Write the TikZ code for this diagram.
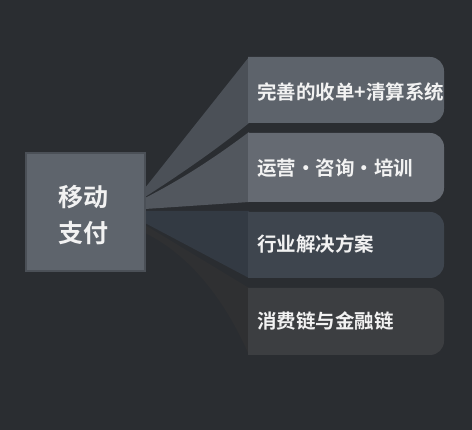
\documentclass[tikz,border=0pt]{standalone}
\usepackage{fontspec}
\newfontfamily\cjk{Noto Sans CJK SC}[BoldFont={Noto Sans CJK SC Bold}]
\definecolor{bg}{HTML}{2A2D31}
\definecolor{leftfill}{HTML}{5E646C}
\definecolor{leftdraw}{HTML}{4B5057}
\definecolor{boxA}{HTML}{5D636B}
\definecolor{boxB}{HTML}{656A72}
\definecolor{boxC}{HTML}{3E454E}
\definecolor{boxD}{HTML}{3C3E41}
\definecolor{fanA}{HTML}{4B5057}
\definecolor{fanB}{HTML}{52575E}
\definecolor{fanC}{HTML}{333A43}
\definecolor{fanD}{HTML}{2F3032}
\definecolor{txt}{HTML}{F2F2F2}
\tikzset{
  itemtext/.style={anchor=west, inner sep=0pt, text=txt, font=\cjk\bfseries\fontsize{19.5}{23}\selectfont},
  paytext/.style={align=center, inner sep=0pt, text=txt, font=\cjk\bfseries\fontsize{25}{36}\selectfont},
}
\newcommand{\tabbox}[4]{% x1,y1,y2,color ; right edge 444
  \fill[#4] (#1,#2) -- (430,#2) to[out=0,in=90] (444,#2+14) -- (444,#3-14) to[out=-90,in=0] (430,#3) -- (#1,#3) -- cycle;}
\begin{document}
\begin{tikzpicture}[x=1pt,y=-1pt]
\fill[bg] (0,0) rectangle (472,430);
\useasboundingbox (0,0) rectangle (472,430);
% anchor coordinates
\coordinate (L1a) at (145,188); \coordinate (L1b) at (145,197);
\coordinate (L2a) at (145,198); \coordinate (L2b) at (145,209);
\coordinate (L3a) at (145,211); \coordinate (L3b) at (145,223);
\coordinate (L4a) at (145,225); \coordinate (L4b) at (145,233);
\coordinate (R1a) at (249,57);  \coordinate (R1b) at (249,123);
\coordinate (R2a) at (249,132); \coordinate (R2b) at (249,202);
\coordinate (R3a) at (249,211); \coordinate (R3b) at (249,278);
\coordinate (R4a) at (249,288); \coordinate (R4b) at (249,355);
% fans
\fill[fanD] (L4a) -- (R4a) -- (R4b) .. controls (225,300) and (190,255) .. (L4b) -- cycle;
\fill[fanC] (L3a) -- (R3a) -- (R3b) -- (L3b) -- cycle;
\fill[fanB] (L2a) .. controls (190,175) and (225,150) .. (R2a) -- (R2b) -- (L2b) -- cycle;
\fill[fanA] (L1a) -- (R1a) -- (R1b) .. controls (222,145) and (190,168) .. (L1b) -- cycle;
% right boxes
\tabbox{248}{57}{123}{boxA}
\tabbox{248}{133}{202}{boxB}
\tabbox{248}{212}{278}{boxC}
\tabbox{248}{288}{355}{boxD}
% left box
\node[draw=leftdraw, line width=2pt, fill=leftfill, minimum width=119pt, minimum height=118pt, inner sep=0pt] (box) at (85,212.5) {};
\node[paytext] (pay) at (83,215) {移动\\支付};
% item texts
\node[itemtext] (t1) at (257,92) {完善的收单+清算系统};
\node[itemtext] (t2) at (257,168) {运营・咨询・培训};
\node[itemtext] (t3) at (257,244) {行业解决方案};
\node[itemtext] (t4) at (257,321) {消费链与金融链};
\end{tikzpicture}
\end{document}
